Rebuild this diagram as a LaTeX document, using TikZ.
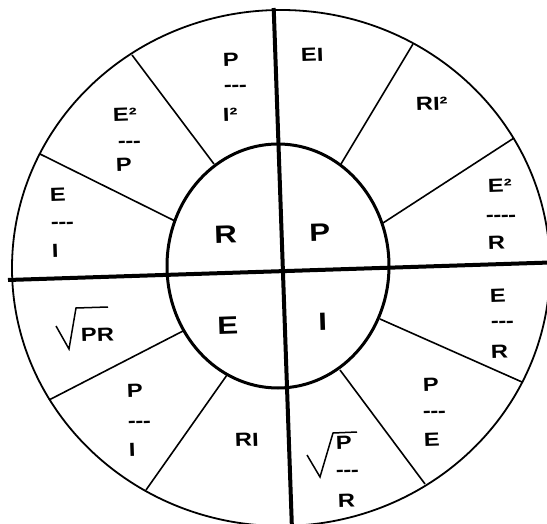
\documentclass[tikz,border=0pt]{standalone}
\usepackage{fontspec}
\newfontfamily\lblfont{Liberation Sans}[FakeStretch=1.25]
\newcommand{\dsh}{-\kern-0.5pt-\kern-0.5pt-}
\newcommand{\dshl}{-\kern-0.5pt-\kern-0.5pt-\kern-0.5pt-}
\tikzset{
  ring/.style={line width=1.8pt},
  spoke/.style={line width=1.6pt},
  hub/.style={line width=3pt},
  axisline/.style={line width=4pt},
  rad/.style={line width=1.5pt, line join=miter},
  outl/.style={inner sep=0pt, anchor=base west, rotate=1.9,
    font=\lblfont\bfseries\fontsize{19}{19}\selectfont},
  inl/.style={inner sep=0pt, anchor=base, rotate=1.9,
    font=\lblfont\bfseries\fontsize{25}{25}\selectfont}
}
\begin{document}
\begin{tikzpicture}[x=1pt,y=-1pt]
\useasboundingbox (0,0) rectangle (547,524);
\fill[white] (0,0) rectangle (547,524);
\clip (0,0) rectangle (547,524);
% outer circle
\draw[ring] (281,268) ellipse [x radius=269, y radius=258];
% spokes
\draw[spoke] (132,55) -- (214,164);
\draw[spoke] (40,154) -- (175,221);
\draw[spoke] (413,44) -- (341,164);
\draw[spoke] (514,138) -- (383,223);
\draw[spoke] (49,400) -- (183,331);
\draw[spoke] (146,490) -- (227,375);
\draw[spoke] (522,382) -- (380,319);
\draw[spoke] (425,484) -- (340,370);
% inner circle
\draw[hub] (278,266) ellipse [x radius=111, y radius=122];
% axes
\coordinate (hl) at (8,280);
\coordinate (hr) at (550,262.5);
\coordinate (vt) at (273.7,8);
\coordinate (vb) at (292,530);
\draw[axisline] (hl) -- (hr);
\draw[axisline] (vt) -- (vb);
% inner labels
\node[inl] (iR) at (226,243) {R};
\node[inl] (iP) at (320,241) {P};
\node[inl] (iE) at (228,334) {E};
\node[inl] (iI) at (323,330) {I};
% upper left
\node[outl] (a1) at (223,67) {P};
\node[outl] (a2) at (224,92) {\dsh};
\node[outl] (a3) at (223,122) {I²};
\node[outl] (b1) at (113,122) {E²};
\node[outl] (b2) at (118,148) {\dsh};
\node[outl] (b3) at (116,172) {P};
\node[outl] (c1) at (50,202) {E};
\node[outl] (c2) at (51,229) {\dsh};
\node[outl] (c3) at (52,258) {I};
% upper right
\node[outl] (d1) at (301,62) {EI};
\node[outl] (e1) at (416,111) {RI²};
\node[outl] (f1) at (488,193) {E²};
\node[outl] (f2) at (486,222) {\dshl};
\node[outl] (f3) at (488,250) {R};
% lower left
\node[outl] (g1) at (81,342) {PR};
\draw[rad] (56,326) -- (69,349) -- (76,308) -- (108,307);
\node[outl] (h1) at (127,398) {P};
\node[outl] (h2) at (128,428) {\dsh};
\node[outl] (h3) at (129,457) {I};
\node[outl] (k1) at (235,447) {RI};
% lower right
\node[outl] (m1) at (490,303) {E};
\node[outl] (m2) at (491,328) {\dsh};
\node[outl] (m3) at (491,359) {R};
\node[outl] (n1) at (423,392) {P};
\node[outl] (n2) at (423,418) {\dsh};
\node[outl] (n3) at (424,447) {E};
\node[outl] (p1) at (336,450) {P};
\node[outl] (p2) at (336,477) {\dsh};
\node[outl] (p3) at (338,508) {R};
\draw[rad] (307,455) -- (320,477) -- (333,433) -- (357,432);
\end{tikzpicture}
\end{document}
